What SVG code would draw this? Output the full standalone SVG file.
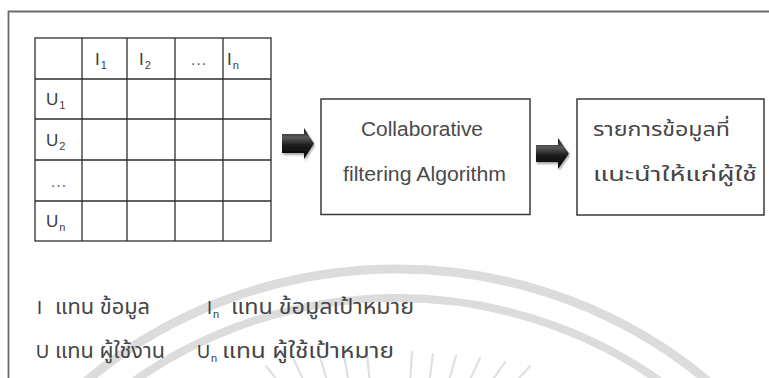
<svg xmlns="http://www.w3.org/2000/svg" width="769" height="378" viewBox="0 0 769 378">
  <style>
    .frame { fill: none; stroke: #6a6a6a; stroke-width: 1.8; }
    .grid { fill: none; stroke: #2f2f2f; stroke-width: 1.3; }
    .box { fill: #ffffff; stroke: #3a3a3a; stroke-width: 1.5; }
    .lat { font-family: "Liberation Sans", Arial, sans-serif; fill: #3c3c3c; }
    .cell { font-size: 17px; }
    .sub { font-size: 11px; }
    .big { font-size: 20px; text-anchor: middle; fill: #4a4a4a; }
    .thai { font-family: "Noto Sans Thai", "Noto Sans Thai UI", Tahoma, "DejaVu Sans", sans-serif; fill: #454545; }
    .wm { fill: none; stroke: #dcdcdc; }
  </style>
  <defs>
    <linearGradient id="arrowFill" x1="0" y1="0" x2="0" y2="1">
      <stop offset="0" stop-color="#0c0c0c"/>
      <stop offset="0.3" stop-color="#5a5a5a"/>
      <stop offset="0.55" stop-color="#1e1e1e"/>
      <stop offset="1" stop-color="#000000"/>
    </linearGradient>
    <filter id="soft" x="-30%" y="-30%" width="160%" height="160%">
      <feGaussianBlur in="SourceAlpha" stdDeviation="1.2"/>
      <feOffset dx="1" dy="1.5" result="sh"/>
      <feFlood flood-color="#000" flood-opacity="0.35"/>
      <feComposite in2="sh" operator="in"/>
      <feMerge><feMergeNode/><feMergeNode in="SourceGraphic"/></feMerge>
    </filter>
  </defs>

  <rect width="769" height="378" fill="#ffffff"/>

  <!-- faint seal watermark -->
  <g id="watermark">
    <ellipse class="wm" cx="397" cy="718" rx="470" ry="449" stroke-width="9"/>
    <ellipse class="wm" cx="397" cy="718" rx="440" ry="420" stroke-width="8"/>
    <g stroke="#e0e0e0" stroke-width="2.2" stroke-linecap="round">
      <line x1="266" y1="366" x2="280" y2="384"/>
      <line x1="294" y1="360" x2="305" y2="384"/>
      <line x1="320" y1="357" x2="328" y2="384"/>
      <line x1="344" y1="355" x2="349" y2="384"/>
      <line x1="367" y1="354" x2="370" y2="384"/>
      <line x1="412" y1="352" x2="410" y2="384"/>
      <line x1="433" y1="354" x2="429" y2="384"/>
      <line x1="456" y1="356" x2="448" y2="384"/>
      <line x1="480" y1="358" x2="468" y2="384"/>
      <line x1="505" y1="362" x2="490" y2="384"/>
      <line x1="530" y1="366" x2="514" y2="384"/>
    </g>
  </g>

  <!-- outer frame -->
  <path class="frame" d="M8.5 378 V11.5 H769"/>

  <!-- user-item rating matrix -->
  <g id="matrix">
    <rect class="grid" x="35" y="38" width="236" height="203"/>
    <path class="grid" d="M82 38 V241 M127 38 V241 M175 38 V241 M223 38 V241 M35 79 H271 M35 119 H271 M35 160 H271 M35 201 H271"/>
    <g class="lat">
      <text class="cell" x="95" y="65">I<tspan class="sub" dx="1" dy="4">1</tspan></text>
      <text class="cell" x="139" y="65">I<tspan class="sub" dx="1" dy="4">2</tspan></text>
      <text class="cell" x="190" y="65" fill="#666">…</text>
      <text class="cell" x="227" y="65">I<tspan class="sub" dx="1" dy="4">n</tspan></text>
      <text class="cell" x="46" y="105">U<tspan class="sub" dx="1" dy="4">1</tspan></text>
      <text class="cell" x="46" y="146">U<tspan class="sub" dx="1" dy="4">2</tspan></text>
      <text class="cell" x="50" y="187" fill="#666">…</text>
      <text class="cell" x="46" y="227">U<tspan class="sub" dx="1" dy="4">n</tspan></text>
    </g>
  </g>

  <!-- algorithm box -->
  <g id="algorithm">
    <rect class="box" x="321" y="99" width="209" height="115.5"/>
    <text class="lat big" x="422" y="136" textLength="122" lengthAdjust="spacingAndGlyphs">Collaborative</text>
    <text class="lat big" x="424.5" y="181" textLength="163" lengthAdjust="spacingAndGlyphs">filtering Algorithm</text>
  </g>

  <!-- recommendation list box -->
  <g id="result">
    <rect class="box" x="577" y="99" width="187" height="116"/>
    <text class="thai" x="593" y="136" font-size="20" textLength="137" lengthAdjust="spacingAndGlyphs">รายการข้อมูลที่</text>
    <text class="thai" x="593" y="181" font-size="20" textLength="164" lengthAdjust="spacingAndGlyphs">แนะนำให้แก่ผู้ใช้</text>
  </g>

  <!-- flow arrows -->
  <g id="connectors" fill="url(#arrowFill)" filter="url(#soft)">
    <path d="M282 134 H304 V128 L314 143.5 L304 159 V153 H282 Z"/>
    <path d="M536 145 H558 V138 L569 153.5 L558 169 V162 H536 Z"/>
  </g>

  <!-- legend -->
  <g id="legend">
    <text class="lat" x="37" y="314" font-size="18">I</text>
    <text class="thai" x="55" y="314" font-size="21" textLength="95" lengthAdjust="spacingAndGlyphs">แทน ข้อมูล</text>
    <text class="lat" x="207" y="314" font-size="18">I<tspan class="sub" dx="1" dy="4">n</tspan></text>
    <text class="thai" x="231" y="314" font-size="21" textLength="183" lengthAdjust="spacingAndGlyphs">แทน ข้อมูลเป้าหมาย</text>
    <text class="lat" x="36" y="358" font-size="18">U</text>
    <text class="thai" x="55" y="358" font-size="21" textLength="110" lengthAdjust="spacingAndGlyphs">แทน ผู้ใช้งาน</text>
    <text class="lat" x="197" y="358" font-size="18">U<tspan class="sub" dx="1" dy="4">n</tspan></text>
    <text class="thai" x="222" y="358" font-size="21" textLength="172" lengthAdjust="spacingAndGlyphs">แทน ผู้ใช้เป้าหมาย</text>
  </g>
</svg>
